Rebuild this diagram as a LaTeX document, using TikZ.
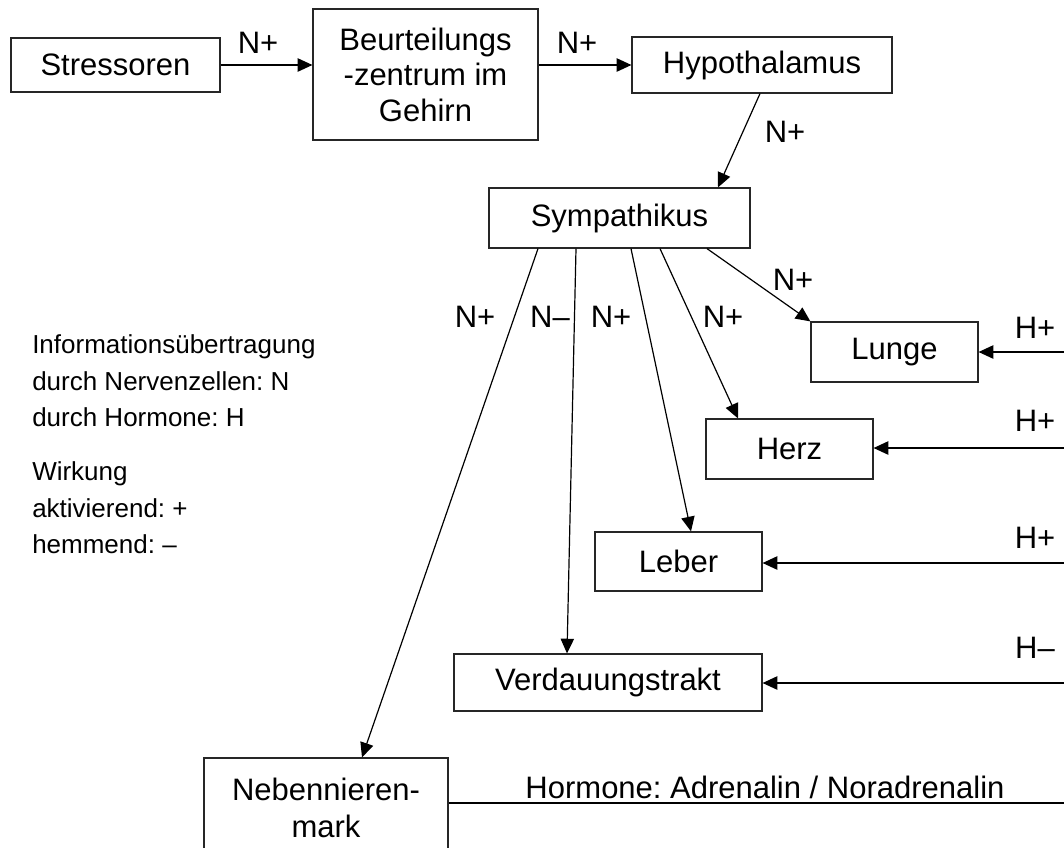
\documentclass[tikz,border=0pt]{standalone}
\usepackage{fontspec}
\setmainfont{Liberation Sans}
\usetikzlibrary{arrows.meta,calc}
\frenchspacing
\begin{document}
\begin{tikzpicture}[x=0.75pt,y=-0.75pt,
  box/.style={draw=black!85, line width=0.9pt, inner sep=0pt, align=center, font=\fontsize{23.25pt}{26.6pt}\selectfont},
  lbl/.style={inner sep=0pt, font=\fontsize{23.25pt}{26.6pt}\selectfont},
  conn/.style={line width=0.9pt, -{Triangle[length=11pt,width=10pt]}},
  plainline/.style={line width=0.9pt},
  legend/.style={inner sep=0pt, align=left, anchor=west, font=\fontsize{19.5pt}{27.5pt}\selectfont}]
\useasboundingbox (0,0) rectangle (1064,847);
\clip (0,0) rectangle (1064,847);

% boxes
\node[box, minimum width=156.75pt, minimum height=40.5pt] (stress) at (115.5,65) {Stressoren};
\node[box, minimum width=168.75pt, minimum height=98.25pt] (beurt) at (425.5,74.5) {Beurteilungs\\-zentrum im\\Gehirn};
\node[box, minimum width=195pt, minimum height=42pt] (hypo) at (762,65) {Hypothalamus};
\node[box, minimum width=195.75pt, minimum height=45pt] (symp) at (619.5,218) {Sympathikus};
\node[box, minimum width=125.25pt, minimum height=45pt] (lunge) at (894.5,352) {Lunge};
\node[box, minimum width=125.25pt, minimum height=45pt] (herz) at (789.5,449) {Herz};
\node[box, minimum width=125.25pt, minimum height=44.25pt] (leber) at (678.5,561.5) {Leber};
\node[box, minimum width=231pt, minimum height=42.75pt] (verd) at (608,682.5) {Verdauungstrakt};
\node[box, minimum width=183pt, minimum height=75pt, font=\fontsize{23.25pt}{27.75pt}\selectfont] (neben) at (326,808) {Nebennieren-\\mark};

% free ends of the hormone lines (outside the visible area)
\coordinate (hL) at (1080,352);
\coordinate (hH) at (1080,448);
\coordinate (hLe) at (1080,563);
\coordinate (hV) at (1080,683);
\coordinate (hN) at (1080,803);

% connectors
\draw[conn] (stress.east) -- (stress.east -| beurt.west);
\draw[conn] (beurt.east |- hypo.west) -- (hypo.west);
\draw[conn] ($(hypo.south)+(-2,0)$) -- ($(symp.north)+(98.5,0)$);
\draw[conn] ($(symp.south)+(-81.5,0)$) -- ($(neben.north)+(36,0)$);
\draw[conn] ($(symp.south)+(-43.5,0)$) -- ($(verd.north)+(-41,0)$);
\draw[conn] ($(symp.south)+(11.5,0)$) -- ($(leber.north)+(12.5,0)$);
\draw[conn] ($(symp.south)+(40.5,0)$) -- ($(herz.north)+(-51.5,0)$);
\draw[conn] ($(symp.south)+(87.5,0)$) -- (lunge.north west);
\draw[conn] (hL) -- (hL -| lunge.east);
\draw[conn] (hH) -- (hH -| herz.east);
\draw[conn] (hLe) -- (hLe -| leber.east);
\draw[conn] (hV) -- (hV -| verd.east);
\draw[plainline] (neben.east |- hN) -- (hN);

% labels
\node[lbl] (l1) at (258,43) {N+};
\node[lbl] (l2) at (577,43) {N+};
\node[lbl] (l3) at (785,132) {N+};
\node[lbl] (l4) at (475,317) {N+};
\node[lbl] (l5) at (550,317) {N–};
\node[lbl] (l6) at (611,317) {N+};
\node[lbl] (l7) at (723,317) {N+};
\node[lbl] (l8) at (793,280) {N+};
\node[lbl] (h1) at (1035,328) {H+};
\node[lbl] (h2) at (1035,421) {H+};
\node[lbl] (h3) at (1035,538) {H+};
\node[lbl] (h4) at (1035,648) {H–};
\node[lbl] (horm) at (765,787) {Hormone: Adrenalin / Noradrenalin};

% legend
\node[legend] (leg1) at (32,381) {Informationsübertragung\\durch Nervenzellen: N\\durch Hormone: H};
\node[legend] (leg2) at (32,508) {Wirkung\\aktivierend: +\\hemmend: –};
\end{tikzpicture}
\end{document}
